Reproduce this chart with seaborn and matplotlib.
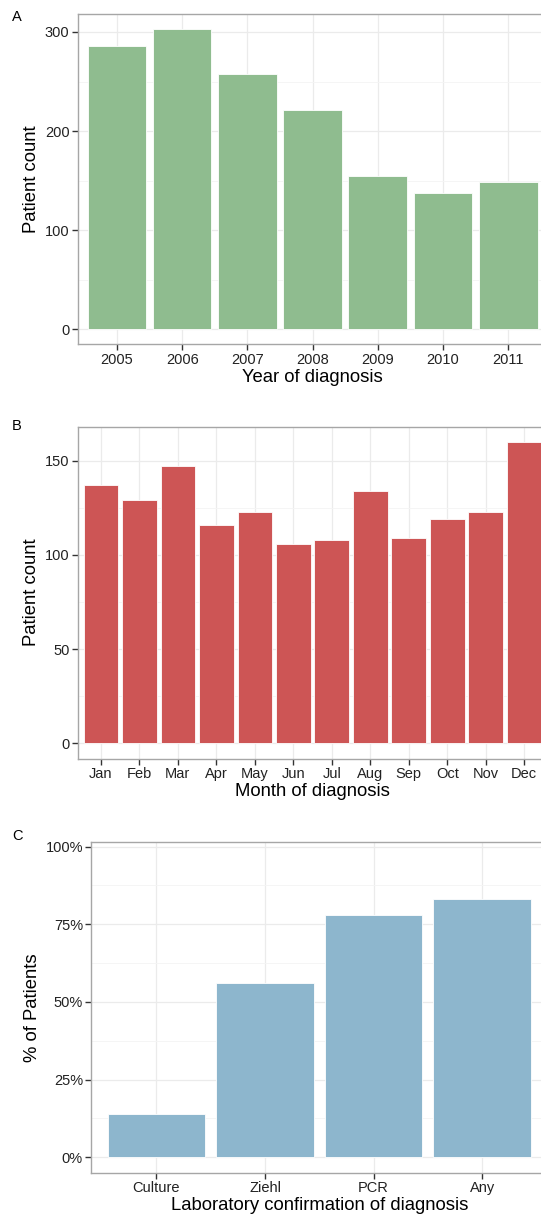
import matplotlib
matplotlib.use("Agg")
import matplotlib.pyplot as plt
from matplotlib.ticker import FixedLocator, FuncFormatter
import seaborn as sns
import pandas as pd

# ---- data ----
years = ["2005", "2006", "2007", "2008", "2009", "2010", "2011"]
year_counts = [286, 303, 258, 221, 155, 138, 149]

months = ["Jan", "Feb", "Mar", "Apr", "May", "Jun", "Jul", "Aug", "Sep", "Oct", "Nov", "Dec"]
month_counts = [137, 129, 147, 116, 123, 106, 108, 134, 109, 119, 123, 160]

lab_tests = ["Culture", "Ziehl", "PCR", "Any"]
lab_pct = [0.14, 0.56, 0.78, 0.83]

sns.set_style("white")
plt.rcParams['font.family'] = ['Liberation Sans', 'DejaVu Sans']

W, H = 541, 1220
fig = plt.figure(figsize=(W / 100, H / 100), dpi=100)


def px_axes(left, top, right, bottom):
    return fig.add_axes([left / W, 1 - bottom / H, (right - left) / W, (bottom - top) / H])


def style(ax, cats, ylim, major, minor, fmt=None):
    n = len(cats)
    ax.set_xlim(-0.6, n - 1 + 0.6)
    ax.set_ylim(*ylim)
    ax.yaxis.set_major_locator(FixedLocator(major))
    ax.yaxis.set_minor_locator(FixedLocator(minor))
    if fmt is not None:
        ax.yaxis.set_major_formatter(FuncFormatter(fmt))
    ax.set_axisbelow(True)
    ax.grid(which='major', color='#ebebeb', lw=0.9)
    ax.grid(which='minor', axis='y', color='#f4f4f4', lw=0.6)
    ax.tick_params(which='major', direction='out', length=4, width=1, color='#333333',
                   labelsize=10.5, labelcolor='#222222', pad=2, bottom=True, left=True)
    ax.tick_params(which='minor', length=0)
    for s in ax.spines.values():
        s.set_color('#a6a6a6')
        s.set_linewidth(1.0)
    ax.spines['right'].set_visible(False)


label_kw = dict(fontsize=13.3, color='black')

# ---- Panel A ----
axA = px_axes(77.8, 14, 547.3, 344.3)
dfA = pd.DataFrame({"year": years, "count": year_counts})
sns.barplot(data=dfA, x="year", y="count", order=years, color="#8FBC8F", saturation=1,
            width=0.9, edgecolor='white', linewidth=0.6, ax=axA)
style(axA, years, (-15.15, 318.15), [0, 100, 200, 300], [50, 150, 250])
axA.set_xlabel("Year of diagnosis", labelpad=1.5, **label_kw)
axA.set_ylabel("Patient count", labelpad=3.5, **label_kw)

# ---- Panel B ----
axB = px_axes(77.8, 426.7, 547.3, 758.5)
dfB = pd.DataFrame({"month": months, "count": month_counts})
sns.barplot(data=dfB, x="month", y="count", order=months, color="#CD5555", saturation=1,
            width=0.9, edgecolor='white', linewidth=0.6, ax=axB)
style(axB, months, (-8, 168), [0, 50, 100, 150], [25, 75, 125])
axB.set_xlabel("Month of diagnosis", labelpad=1.5, **label_kw)
axB.set_ylabel("Patient count", labelpad=3.5, **label_kw)

# ---- Panel C ----
axC = px_axes(91.3, 841.7, 547.3, 1172.7)
dfC = pd.DataFrame({"test": lab_tests, "pct": lab_pct})
sns.barplot(data=dfC, x="test", y="pct", order=lab_tests, color="#8DB6CD", saturation=1,
            width=0.9, edgecolor='white', linewidth=0.6, ax=axC)
style(axC, lab_tests, (-0.0496, 1.016), [0, 0.25, 0.5, 0.75, 1.0],
      [0.125, 0.375, 0.625, 0.875], fmt=lambda v, p: f"{v * 100:.0f}%")
axC.set_xlabel("Laboratory confirmation of diagnosis", labelpad=1.5, **label_kw)
axC.set_ylabel("% of Patients", labelpad=3.5, **label_kw)

# ---- panel letters ----
for letter, y in [("A", 17), ("B", 426), ("C", 836)]:
    fig.text(12 / W, 1 - y / H, letter, fontsize=10.5, color='black', va='center', ha='left')

fig.savefig("out.png", dpi=100)
